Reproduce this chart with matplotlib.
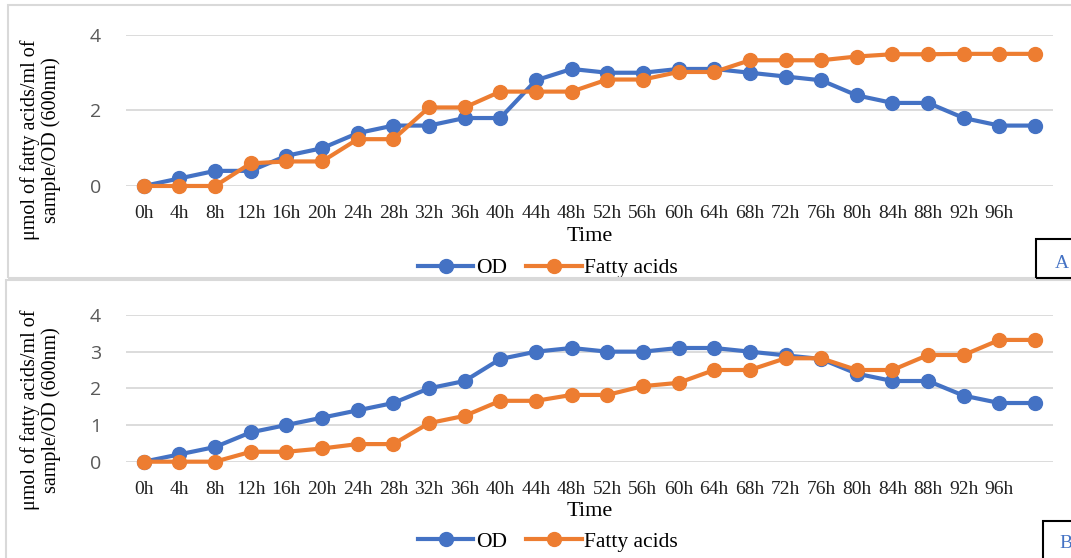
import matplotlib.pyplot as plt
from matplotlib.patches import Rectangle

# time labels, last point has no label
hours = ['0h', '4h', '8h', '12h', '16h', '20h', '24h', '28h', '32h', '36h', '40h', '44h', '48h',
         '52h', '56h', '60h', '64h', '68h', '72h', '76h', '80h', '84h', '88h', '92h', '96h', '']

od_a = [0, 0.2, 0.4, 0.4, 0.8, 1.0, 1.4, 1.6, 1.6, 1.8, 1.8, 2.8, 3.1,
        3.0, 3.0, 3.1, 3.1, 3.0, 2.9, 2.8, 2.4, 2.2, 2.2, 1.8, 1.6, 1.6]
fa_a = [0, 0, 0, 0.6, 0.65, 0.65, 1.24, 1.24, 2.08, 2.08, 2.5, 2.5, 2.5,
        2.82, 2.82, 3.02, 3.02, 3.33, 3.33, 3.33, 3.43, 3.49, 3.49, 3.5, 3.5, 3.5]

od_b = [0, 0.2, 0.4, 0.8, 1.0, 1.2, 1.4, 1.6, 2.0, 2.2, 2.8, 3.0, 3.1,
        3.0, 3.0, 3.1, 3.1, 3.0, 2.9, 2.8, 2.4, 2.2, 2.2, 1.8, 1.6, 1.6]
fa_b = [0, 0, 0, 0.27, 0.27, 0.36, 0.48, 0.48, 1.05, 1.25, 1.66, 1.66, 1.82,
        1.82, 2.06, 2.15, 2.5, 2.5, 2.82, 2.82, 2.5, 2.5, 2.91, 2.91, 3.32, 3.32]

blue = '#4472C4'
orange = '#ED7D31'
serif = 'Liberation Serif'
ylabel = 'μmol of fatty acids/ml of\nsample/OD (600nm)'

fig = plt.figure(figsize=(10.71, 5.58), dpi=100)

# panel frames
fig.patches.append(Rectangle((0.0075, 0.502), 1.0, 0.489, transform=fig.transFigure,
                             fill=False, edgecolor='#d9d9d9', lw=1.5))
fig.patches.append(Rectangle((0.0056, -0.01), 1.0, 0.508, transform=fig.transFigure,
                             fill=False, edgecolor='#d9d9d9', lw=1.5))


def panel(rect, od, fa, yticks, letter, box, letter_xy, label_y):
    ax = fig.add_axes(rect)
    x = list(range(len(hours)))
    ax.plot(x, od, color=blue, lw=3, marker='o', ms=10, label='OD', clip_on=False, zorder=3)
    ax.plot(x, fa, color=orange, lw=3, marker='o', ms=10, label='Fatty acids', clip_on=False, zorder=4)
    ax.set_xlim(-0.5, len(hours) - 0.5)
    ax.set_ylim(0, 4)
    ax.set_yticks(yticks)
    ax.set_xticks(x)
    ax.set_xticklabels(hours, fontfamily=serif, fontsize=14, color='#222222')
    ax.tick_params(axis='x', length=0, pad=14)
    ax.tick_params(axis='y', length=0, pad=18, labelsize=14, labelcolor='#595959')
    for t in ax.get_yticklabels():
        t.set_fontfamily('Open Sans')
    ax.grid(axis='y', color='#d9d9d9', lw=1.3)
    ax.set_axisbelow(True)
    for s in ax.spines.values():
        s.set_visible(False)
    ax.set_xlabel('Time', fontfamily=serif, fontsize=16, labelpad=3)
    fig.text(0.0375, label_y, ylabel, rotation=90, ha='center', va='center',
             fontfamily=serif, fontsize=14.5, linespacing=1.1)
    ax.legend(loc='upper center', bbox_to_anchor=(0.455, -0.42), ncol=2, frameon=False,
              prop={'family': serif, 'size': 15.5}, handlelength=2.6,
              handletextpad=0.1, columnspacing=0.9, borderaxespad=0)
    fig.patches.append(Rectangle(box[:2], box[2], box[3], transform=fig.transFigure,
                                 fill=False, edgecolor='black', lw=1.5))
    fig.text(letter_xy[0], letter_xy[1], letter, color=blue, fontfamily=serif,
             fontsize=14, va='center')
    return ax


panel([0.1176, 0.6667, 0.8655, 0.2706], od_a, fa_a, [0, 2, 4], 'A',
      (0.9675, 0.502, 0.05, 0.07), (0.985, 0.528), 0.749)
panel([0.1176, 0.1726, 0.8655, 0.2629], od_b, fa_b, [0, 1, 2, 3, 4], 'B',
      (0.9735, -0.02, 0.05, 0.086), (0.989, 0.026), 0.265)

fig.savefig('out.png', dpi=100)
